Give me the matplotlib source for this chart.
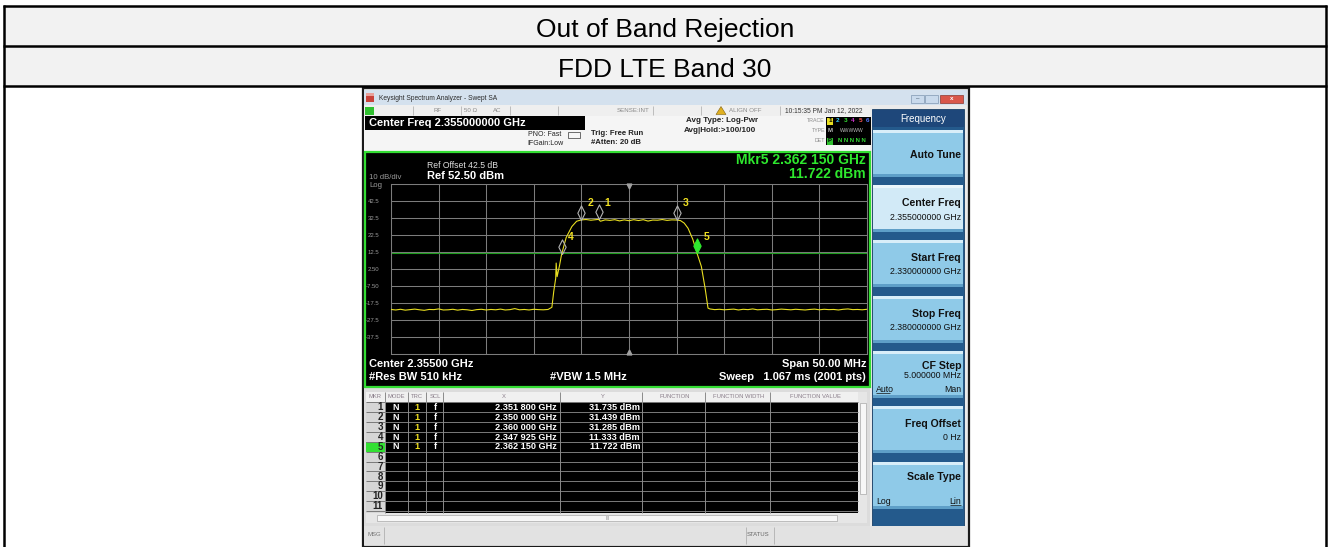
import matplotlib
matplotlib.use('Agg')
import matplotlib.pyplot as plt
import matplotlib.patches as mpatches
from matplotlib.path import Path

plt.rcParams['font.family'] = ['Liberation Sans', 'DejaVu Sans']

# ---- data ----
title_rows = ['Out of Band Rejection', 'FDD LTE Band 30']

center_mhz = 2355.0
span_mhz = 50.0
ref_level = 52.5
db_per_div = 10.0
display_line = 11.74

ytick_labels = ['', '-37.5', '-27.5', '-17.5', '-7.50', '2.50', '12.5', '22.5', '32.5', '42.5', '']

floor_left_mhz = [2330.0, 2330.5, 2331.0, 2331.5, 2332.0, 2332.5, 2333.0, 2333.5, 2334.0, 2334.5,
                  2335.0, 2335.5, 2336.0, 2336.5, 2337.0, 2337.5, 2338.0, 2338.5, 2339.0, 2339.5,
                  2340.0, 2340.5, 2341.0, 2341.5, 2342.0, 2342.5, 2343.0, 2343.5, 2344.0, 2344.5,
                  2345.0, 2345.5, 2346.0, 2346.5]
floor_left_dbm = [-21.3, -21.6, -21.2, -21.7, -21.4, -21.1, -21.5, -21.8, -21.3, -21.4,
                  -21.0, -21.6, -21.5, -21.2, -21.7, -21.3, -21.5, -21.9, -21.4, -21.2,
                  -21.6, -21.3, -21.5, -21.1, -21.6, -21.4, -20.8, -21.5, -21.3, -21.6,
                  -21.2, -21.4, -21.5, -21.3]

left_edge_mhz = [2346.9, 2347.1, 2347.3, 2347.35, 2347.45, 2347.7, 2347.925, 2348.4, 2349.0, 2349.5]
left_edge_dbm = [-20.0, -10.5, -3.0, 6.0, -2.0, 4.5, 11.3, 21.0, 27.5, 30.6]

top_mhz = [2350.0, 2350.5, 2351.0, 2351.5, 2351.8, 2352.0, 2352.5, 2353.0, 2353.5, 2354.0, 2354.5,
           2355.0, 2355.5, 2356.0, 2356.5, 2357.0, 2357.5, 2358.0, 2358.5, 2359.0, 2359.5, 2360.0]
top_dbm = [31.4, 31.6, 31.2, 31.5, 31.7, 30.6, 31.4, 31.1, 31.5, 30.8, 31.4,
           30.9, 31.5, 31.0, 31.5, 30.7, 31.3, 31.2, 31.6, 31.1, 31.4, 31.3]

right_edge_mhz = [2360.4, 2360.8, 2361.2, 2361.7, 2362.15, 2362.6, 2363.0, 2363.3]
right_edge_dbm = [31.0, 29.5, 26.5, 20.0, 11.7, 4.0, -9.0, -20.5]

floor_right_mhz = [2363.5, 2364.0, 2364.5, 2365.0, 2365.5, 2366.0, 2366.5, 2367.0, 2367.5, 2368.0,
                   2368.5, 2369.0, 2369.5, 2370.0, 2370.5, 2371.0, 2371.5, 2372.0, 2372.5, 2373.0,
                   2373.5, 2374.0, 2374.5, 2375.0, 2375.5, 2376.0, 2376.5, 2377.0, 2377.5, 2378.0,
                   2378.5, 2379.0, 2379.5, 2380.0]
floor_right_dbm = [-21.0, -21.4, -21.2, -21.5, -21.3, -21.1, -21.6, -21.2, -21.4, -21.0,
                   -21.5, -21.3, -21.2, -21.6, -21.4, -21.1, -21.3, -21.5, -21.2, -21.4,
                   -21.6, -21.3, -21.1, -21.5, -21.2, -21.4, -21.3, -21.6, -21.2, -21.0,
                   -21.4, -21.3, -21.5, -21.2]

marker_ids = [1, 2, 3, 4, 5]
marker_mhz = [2351.8, 2350.0, 2360.0, 2347.925, 2362.15]
marker_dbm = [31.735, 31.439, 31.285, 11.333, 11.722]
marker_x_txt = ['2.351 800 GHz', '2.350 000 GHz', '2.360 000 GHz', '2.347 925 GHz', '2.362 150 GHz']
marker_y_txt = ['31.735 dBm', '31.439 dBm', '31.285 dBm', '11.333 dBm', '11.722 dBm']

softkeys = [('Auto Tune', ''), ('Center Freq', '2.355000000 GHz'), ('Start Freq', '2.330000000 GHz'),
            ('Stop Freq', '2.380000000 GHz'), ('CF Step', '5.000000 MHz'), ('Freq Offset', '0 Hz'),
            ('Scale Type', '')]

# ---- canvas in pixel coordinates ----
W, H = 1330, 547
fig = plt.figure(figsize=(W / 100, H / 100), dpi=100)
bg = fig.add_axes([0, 0, 1, 1])
bg.set_xlim(0, W)
bg.set_ylim(H, 0)
bg.axis('off')


def box(x0, y0, x1, y1, fc, ec='none', lw=0, z=1):
    bg.add_patch(mpatches.Rectangle((x0, y0), x1 - x0, y1 - y0, fc=fc, ec=ec, lw=lw, zorder=z))


def txt(x, y, s, size=6, color='black', ha='left', weight='normal', va='center', z=5, **kw):
    bg.text(x, y, s, fontsize=size, color=color, ha=ha, va=va, fontweight=weight, zorder=z, **kw)


def line(xs, ys, color, lw, z=3):
    bg.plot(xs, ys, color=color, lw=lw, zorder=z, solid_capstyle='butt')


# outer report table
box(4, 5.5, 1326, 86, '#F2F2F2')
for yy in [5.5, 46, 86]:
    line([2.8, 1327.2], [yy, yy], 'black', 1.8, z=6)
for xx in [4, 1326]:
    line([xx, xx], [4.5, 548], 'black', 1.8, z=6)
txt(665, 36.6, title_rows[0], 19, ha='center', va='baseline')
txt(665, 76.6, title_rows[1], 19, ha='center', va='baseline')

# screenshot frame
box(362.5, 87.5, 968.5, 546.5, '#E9E9E9', ec='#1A1A1A', lw=1.6)
box(364, 90, 967, 105, '#D4E1EE')
box(366, 93, 374, 102, '#C8413A')
box(366, 93, 374, 96, '#E8A09A')
txt(379, 98, 'Keysight Spectrum Analyzer - Swept SA', 4.8, '#2A2A2A')
box(911, 95, 924, 103, '#C9DAEC', ec='#7F97B2', lw=0.5)
box(925, 95, 938, 103, '#C9DAEC', ec='#7F97B2', lw=0.5)
box(940, 95, 963, 103, '#D9574A', ec='#8A3A32', lw=0.5)
txt(917.5, 99, '–', 4.5, '#34495E', ha='center')
txt(951.5, 99, 'x', 4.5, 'white', ha='center', weight='bold')

# status row
box(364, 105, 870, 116, '#EFEFEF')
box(365, 106.5, 374, 114.5, '#2FBF2F')
for xx in [413, 461, 510, 558, 653, 701, 780]:
    line([xx, xx], [106, 115], '#B5B5B5', 0.6)
for xx, s in [(438, 'RF'), (471, '50 Ω'), (497, 'AC'), (633, 'SENSE:INT'), (745, 'ALIGN OFF')]:
    txt(xx, 111, s, 4.4, '#8A8A8A', ha='center')
bg.add_patch(mpatches.Polygon([[716, 114.5], [721, 106.5], [726, 114.5]], fc='#E0B020', ec='#806010',
                              lw=0.4, zorder=4))
txt(824, 111, '10:15:35 PM Jan 12, 2022', 4.8, '#333333', ha='center')

# instrument header
box(364, 116, 870, 151, '#F5F5F5')
box(365, 116, 585, 130, 'black', z=2)
txt(369, 123.3, 'Center Freq 2.355000000 GHz', 8, 'white', weight='bold')
txt(561, 134.3, 'PNO: Fast', 5, '#222222', ha='right')
txt(563, 143.3, 'IFGain:Low', 5, '#222222', ha='right')
box(568, 132, 580, 138, 'none', ec='#555555', lw=0.6, z=3)
txt(591, 133.5, 'Trig: Free Run', 5.6, '#222222', weight='bold')
txt(591, 142.5, '#Atten: 20 dB', 5.6, '#222222', weight='bold')
txt(686, 121, 'Avg Type: Log-Pwr', 5.8, '#222222', weight='bold')
txt(684, 130.5, 'Avg|Hold:>100/100', 5.8, '#222222', weight='bold')
for yy, s in [(121, 'TRACE'), (131, 'TYPE'), (141, 'DET')]:
    txt(825, yy, s, 3.8, '#8A8A8A', ha='right')
box(826, 117, 871, 145, 'black', z=2)
box(827, 117.5, 833, 124.5, '#E8DE20', z=3)
for i, (d, c) in enumerate(zip('123456', ['black', '#33CCFF', '#33DD33', '#CC33CC', '#FF5555', '#5577FF'])):
    txt(830 + i * 7.6, 121, d, 4.6, c, ha='center', weight='bold')
txt(830, 131, 'M', 4.3, '#BBBBBB', ha='center', weight='bold')
txt(852, 131, 'WWWWW', 3.6, '#BBBBBB', ha='center')
box(827, 137.5, 833, 144.5, '#2FBF2F', z=3)
txt(830, 141, 'P', 4.3, 'black', ha='center', weight='bold')
txt(852, 141, 'N N N N N', 4.2, '#33DD33', ha='center', weight='bold')

# graph frame
box(365, 152, 870, 387, 'black', ec='#33DD33', lw=1.6, z=2)
txt(427, 166, 'Ref Offset 42.5 dB', 6.2, '#E0E0E0')
txt(427, 175.8, 'Ref 52.50 dBm', 8, 'white', weight='bold')
txt(369, 177.8, '10 dB/div', 5.6, '#9A9A9A')
txt(369, 185.2, 'Log', 5.6, '#9A9A9A')
txt(866, 160.5, 'Mkr5 2.362 150 GHz', 10, '#2EE82E', ha='right', weight='bold')
txt(866, 174, '11.722 dBm', 10, '#2EE82E', ha='right', weight='bold')
txt(369, 364, 'Center 2.35500 GHz', 8, 'white', weight='bold')
txt(369, 377, '#Res BW 510 kHz', 8, 'white', weight='bold')
txt(550, 377, '#VBW 1.5 MHz', 8, 'white', weight='bold')
txt(866, 364, 'Span 50.00 MHz', 8, 'white', ha='right', weight='bold')
txt(866, 377, 'Sweep   1.067 ms (2001 pts)', 8, 'white', ha='right', weight='bold')
txt(865, 249.5, '11.74 dBm', 3.6, '#2EC82E', ha='right')

# marker table
box(364, 388, 870, 526, '#DCDCDC')
box(366, 392, 858, 401.5, '#F0F0F0')
box(366, 401.5, 385, 513, '#D6D6D6')
box(385, 401.5, 858, 513, 'black')
row_h = 9.87
box(366, 402.3 + 4 * row_h, 385, 402.3 + 5 * row_h, '#33E033', z=1.5)
for i in range(12):
    yy = 402.3 + row_h * i
    line([366, 858], [yy, yy], '#7A7A7A', 0.7)
for xx in [385, 408, 426, 443, 560, 642, 705, 770]:
    line([xx, xx], [392, 513], '#8A8A8A', 0.7)
for xx, s in [(375, 'MKR'), (396, 'MODE'), (417, 'TRC'), (435, 'SCL'), (504, 'X'), (603, 'Y'),
              (675, 'FUNCTION'), (739, 'FUNCTION WIDTH'), (815, 'FUNCTION VALUE')]:
    txt(xx, 397, s, 4.2, '#8A7E8A', ha='center')
for i in range(11):
    txt(383, 407.5 + row_h * i, str(i + 1), 7, '#222222', ha='right', weight='bold')
for i in range(len(marker_ids)):
    yy = 407.5 + row_h * i
    txt(396, yy, 'N', 6.5, 'white', ha='center', weight='bold')
    txt(417, yy, '1', 6.5, '#F0E020', ha='center', weight='bold')
    txt(435, yy, 'f', 6.5, 'white', ha='center', weight='bold')
    txt(557, yy, marker_x_txt[i], 6.6, 'white', ha='right', weight='bold')
    txt(640, yy, marker_y_txt[i], 6.6, 'white', ha='right', weight='bold')
box(858, 392, 867, 513, '#E6E6E6')
box(860, 403, 866, 494, '#F7F7F7', ec='#A8A8A8', lw=0.5)
box(366, 513, 867, 523, '#E6E6E6')
box(377, 515, 837, 521, '#F7F7F7', ec='#A8A8A8', lw=0.5)
txt(608, 518, 'III', 3.5, '#888888', ha='center')
box(364, 526, 967, 545, '#E2E2E2')
for xx in [384, 746, 774]:
    line([xx, xx], [527, 544], '#B0B0B0', 0.6)
txt(367, 535, 'MSG', 4.3, '#777777')
txt(747, 535, 'STATUS', 4.3, '#666666')

# soft key panel
box(870, 105, 967, 526, '#EBEBEB')
box(872, 109, 964, 526, '#245A8C', ec='#1A3F66', lw=0.6)
box(872, 110, 964, 127, '#1E477A')
txt(923, 118.5, 'Frequency', 7, 'white', ha='center')
key_top = [130, 185, 240, 296, 351, 406, 462]
for (title, value), yt in zip(softkeys, key_top):
    fc = '#D2EAF7' if title == 'Center Freq' else '#8FCAE8'
    box(873, yt, 963, yt + 47, fc)
    box(873, yt, 963, yt + 3, '#D8EEF9' if title != 'Center Freq' else '#EAF6FC', z=1.2)
    box(873, yt + 44, 963, yt + 47, '#5E9FC8', z=1.2)
    if title == 'Auto Tune':
        txt(961, yt + 25, title, 7.6, '#111111', ha='right', weight='bold')
    elif title == 'CF Step':
        txt(961, yt + 15, title, 7.6, '#111111', ha='right', weight='bold')
        txt(961, yt + 25, value, 6.3, '#111111', ha='right')
        txt(876, yt + 38, 'Auto', 6.3, '#111111')
        line([876, 890], [yt + 42, yt + 42], '#111111', 0.5)
        txt(961, yt + 38, 'Man', 6.3, '#111111', ha='right')
    elif title == 'Scale Type':
        txt(961, yt + 15, title, 7.6, '#111111', ha='right', weight='bold')
        txt(876, yt + 39, 'Log', 6.3, '#111111')
        txt(961, yt + 39, 'Lin', 6.3, '#111111', ha='right')
        line([950, 961], [yt + 43, yt + 43], '#111111', 0.5)
    else:
        txt(961, yt + 18, title, 7.6, '#111111', ha='right', weight='bold')
        txt(961, yt + 32, value, 6.3, '#111111', ha='right')
box(870, 526, 967, 545, '#E4E4E4')

# ---- spectrum graticule ----
gx0, gy0, gx1, gy1 = 391, 184, 867, 354
ax = fig.add_axes([gx0 / W, 1 - gy1 / H, (gx1 - gx0) / W, (gy1 - gy0) / H])
ax.set_zorder(5)
ax.set_facecolor('black')
ax.set_xlim(center_mhz - span_mhz / 2, center_mhz + span_mhz / 2)
ax.set_ylim(ref_level - 10 * db_per_div, ref_level)
ax.set_xticks([center_mhz - span_mhz / 2 + k * span_mhz / 10 for k in range(11)])
ax.set_yticks([ref_level - 10 * db_per_div + k * db_per_div for k in range(11)])
ax.set_xticklabels([])
ax.set_yticklabels(ytick_labels, fontsize=4.3, color='#9A9A9A')
ax.tick_params(length=0, pad=8.5)
ax.grid(True, color='#7C7C7C', lw=0.75)
for sp in ax.spines.values():
    sp.set_color('#7C7C7C')
    sp.set_linewidth(0.75)

ax.axhline(display_line, color='#1E9E1E', lw=0.8, zorder=2)

trace_mhz = floor_left_mhz + left_edge_mhz + top_mhz + right_edge_mhz + floor_right_mhz
trace_dbm = floor_left_dbm + left_edge_dbm + top_dbm + right_edge_dbm + floor_right_dbm
ax.plot(trace_mhz, trace_dbm, color='#E8DE20', lw=0.8, zorder=3)

diamond = Path([(0, 0), (0.5, 1), (0, 2), (-0.5, 1), (0, 0)],
               [Path.MOVETO, Path.LINETO, Path.LINETO, Path.LINETO, Path.CLOSEPOLY])
for mid, f, lv in zip(marker_ids, marker_mhz, marker_dbm):
    active = mid == 5
    ax.plot([f], [lv], marker=diamond, ms=21, mfc='#2EE82E' if active else 'none',
            mec='#2EE82E' if active else '#B4B4B4', mew=0.8, zorder=4, clip_on=False)
    ax.annotate(str(mid), xy=(f, lv), xytext=(4.5, 12), textcoords='offset points',
                color='#F0E020', fontsize=7.5, fontweight='bold', ha='left', va='center', zorder=5)

ax.plot([center_mhz], [ref_level - 1.2], marker='v', ms=3.5, color='#A0A0A0', clip_on=False, zorder=4)
ax.plot([center_mhz], [ref_level - 10 * db_per_div + 1.2], marker='^', ms=3.5, color='#A0A0A0',
        clip_on=False, zorder=4)

fig.savefig('out.png', dpi=100)
